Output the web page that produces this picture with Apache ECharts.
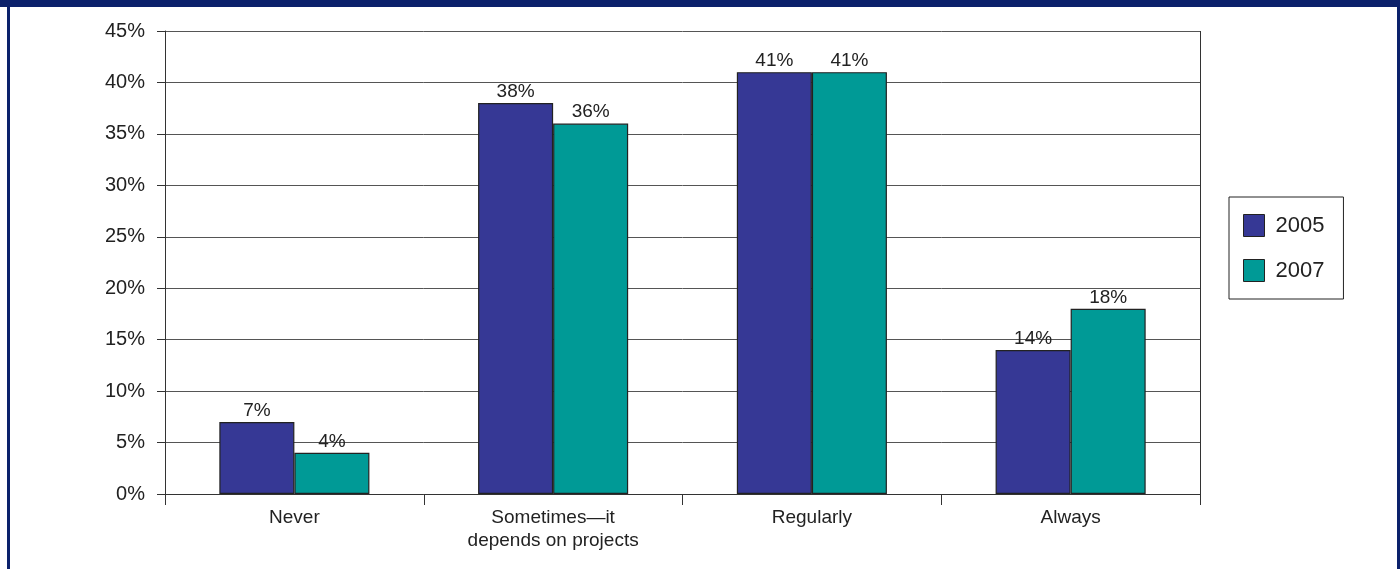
<!DOCTYPE html>
<html>
<head>
<meta charset="utf-8">
<script src="https://cdn.jsdelivr.net/npm/echarts@6/dist/echarts.min.js"></script>
<style>
  html, body { margin: 0; padding: 0; background: #fff; }
  .rule { position: absolute; background: #0b216b; }
  #chart { position: absolute; left: 0; top: 0; width: 1400px; height: 569px; }
</style>
</head>
<body>
<div class="rule" style="left:0;top:0;width:1400px;height:7px"></div>
<div class="rule" style="left:7px;top:0;width:3px;height:569px"></div>
<div class="rule" style="left:1397px;top:0;width:3px;height:569px"></div>
<div id="chart"></div>
<script>
// Share of respondents per answer, survey years 2005 and 2007
const categories = ['Never', 'Sometimes\u2014it\ndepends on projects', 'Regularly', 'Always'];
const seriesNames = ['2005', '2007'];
const values2005 = [7, 38, 41, 14];
const values2007 = [4, 36, 41, 18];
const yTicks = [0, 5, 10, 15, 20, 25, 30, 35, 40, 45];

const FONT = '"Liberation Sans Narrow", "Arial Narrow", "Liberation Sans", Arial, sans-serif';
const colors = ['#363895', '#009a96'];

const chart = echarts.init(document.getElementById('chart'), null, { renderer: 'canvas' });

const barSeries = [values2005, values2007].map((vals, i) => ({
  name: seriesNames[i],
  type: 'bar',
  data: vals,
  barGap: '0%',
  barCategoryGap: '42%',
  itemStyle: { color: colors[i], borderColor: '#222', borderWidth: 1.2 },
  label: {
    show: true, position: 'top', distance: 2,
    formatter: p => p.value + '%',
    fontFamily: FONT, fontSize: 19, color: '#222'
  }
}));

chart.setOption({
  animation: false,
  color: colors,
  grid: { left: 165, right: 200, top: 31, bottom: 75, containLabel: false },
  legend: {
    orient: 'vertical',
    left: 1229, top: 197,
    padding: [17, 19, 17, 14],
    itemGap: 22,
    itemWidth: 21, itemHeight: 22,
    icon: 'rect',
    borderColor: '#222', borderWidth: 1,
    data: seriesNames.map(n => ({ name: n, itemStyle: { borderColor: '#222', borderWidth: 1 } })),
    textStyle: { fontFamily: FONT, fontSize: 22, color: '#222', padding: [0, 0, 0, 6] }
  },
  xAxis: {
    type: 'category',
    data: categories,
    axisLine: { lineStyle: { color: '#333', width: 1 } },
    axisTick: { show: true, length: 11, lineStyle: { color: '#333' } },
    axisLabel: { fontFamily: FONT, fontSize: 19, color: '#222', margin: 12, lineHeight: 23 }
  },
  yAxis: {
    type: 'value',
    min: 0, max: 45, interval: 5,
    axisLine: { show: true, lineStyle: { color: '#333', width: 1 } },
    axisTick: { show: true, length: 8, lineStyle: { color: '#333' } },
    axisLabel: {
      fontFamily: FONT, fontSize: 20, color: '#222', margin: 20,
      formatter: v => yTicks.includes(v) ? v + '%' : ''
    },
    splitLine: { show: true, lineStyle: { color: '#555', width: 1 } }
  },
  series: barSeries
});

// vertical frame line at the right of the plot area, placed through the axis scale
function drawRightEdge() {
  const top = chart.convertToPixel({ yAxisIndex: 0 }, 45);
  const bottom = chart.convertToPixel({ yAxisIndex: 0 }, 0);
  const rect = chart.getModel().getComponent('grid').coordinateSystem.getRect();
  const x = Math.round(rect.x + rect.width) + 0.5;
  chart.setOption({
    graphic: [{
      type: 'line', silent: true,
      shape: { x1: x, y1: top, x2: x, y2: bottom + 11 },
      style: { stroke: '#333', lineWidth: 1 }
    }]
  });
}
drawRightEdge();
</script>
</body>
</html>
